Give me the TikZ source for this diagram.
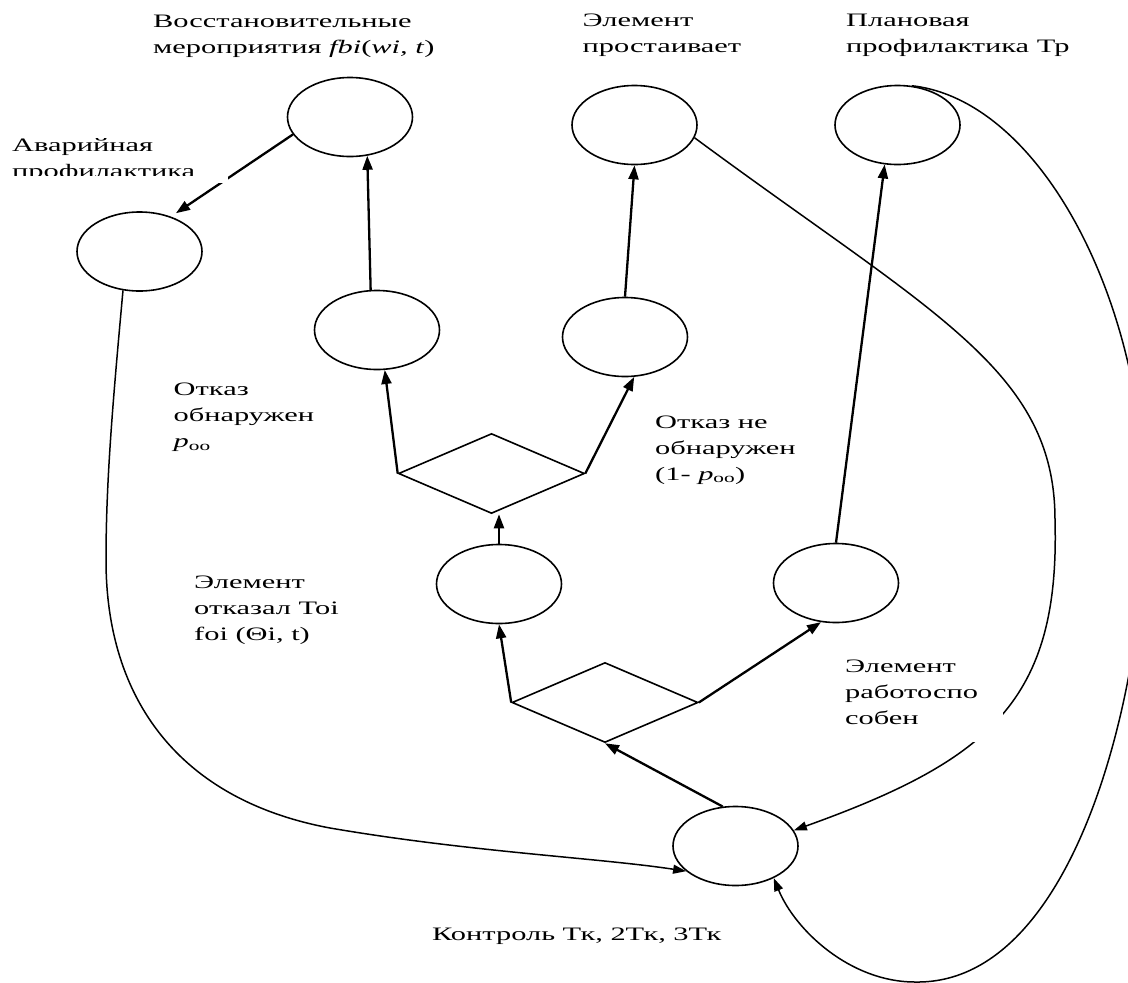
\documentclass[tikz,border=0pt]{standalone}
\usepackage{fontspec}
\setmainfont{Liberation Serif}[FakeStretch=1.6]
\usetikzlibrary{shapes.geometric,arrows.meta}

\begin{document}
\begin{tikzpicture}[x=1pt,y=-1pt,
  ell/.style={draw,ellipse,line width=1.6pt,minimum width=125pt,minimum height=79pt,inner sep=0pt},
  rhomb/.style={draw,diamond,line width=1.6pt,minimum width=186pt,minimum height=80pt,inner sep=0pt,aspect=2.325},
  thk/.style={line width=2.3pt,-{Triangle[length=14pt,width=10pt]}},
  thn/.style={line width=1.5pt,-{Triangle[length=13pt,width=9pt]}},
  lbl/.style={font=\fontsize{19}{26}\selectfont,align=left,inner sep=0pt,anchor=north west},
  blank/.style={fill=white}]
\clip (0,0) rectangle (1128,983);
\fill[white] (0,0) rectangle (1128,983);

% states
\node[ell] (e1) at (350,117) {};
\node[ell] (e2) at (634.5,125) {};
\node[ell] (e3) at (897.5,125) {};
\node[ell] (e4) at (139.5,251.5) {};
\node[ell] (e5) at (377,330) {};
\node[ell] (e6) at (625,337) {};
\node[ell] (e7) at (499,584) {};
\node[ell] (e8) at (836,583) {};
\node[ell] (e9) at (735.5,846) {};

% branch points
\node[rhomb] (d1) at (491.5,473.5) {};
\node[rhomb] (d2) at (605,702.5) {};

% straight transitions
\draw[thk] (e5.99) -- (e1.-66);
\draw[thk] (e6.north) -- (e2.south);
\draw[thk] (d1.west) -- (e5.-79);
\draw[thk] (d1.east) -- (e6.-77);
\draw[thk] (e7.north) -- (e7.north |- d1.south);
\draw[thk] (d2.west) -- (e7.south);
\draw[thk] (d2.east) -- (e8.249);
\draw[thk] (e9.108) -- (d2.south);
\draw[thk] (e8.north) -- (e3.252);
\draw[thk,shorten >=6pt] (e1.197) -- (e4.48);

% return paths to the control state
\draw[thn] (e4.247) .. controls (113,400) and (106,480) .. (106,560)
  .. controls (106,700) and (180,800) .. (330,828)
  .. controls (470,852) and (600,858) .. (e9.207);
\draw[thn] (e2.-12) .. controls (933,314) and (1055,370) .. (1055,520)
  .. controls (1060,700) and (990,760) .. (e9.15);
\draw[thn] (e3.70) .. controls (1040,100) and (1145,300) .. (1145,510)
  .. controls (1145,690) and (1075,985) .. (915,982)
  .. controls (850,982) and (795,930) .. (e9.-40);

% text box backgrounds
\path[blank] (0,120) rectangle (228,183);
\path[blank] (840,650) rectangle (1003,742);

% labels
\node[lbl] (tvost) at (153,14.4) {Восстановительные\\мероприятия \textit{fbi}(\textit{wi, t})};
\node[lbl] (tprost) at (582.5,13.4) {Элемент\\простаивает};
\node[lbl] (tplan) at (846,13.4) {Плановая\\профилактика Тр};
\begin{scope}
  \clip (0,0) rectangle (300,175.5);
  \node[lbl] (tavar) at (12,138.4) {Аварийная\\профилактика};
\end{scope}
\node[lbl] (tobn) at (173.5,382.9) {Отказ\\обнаружен\\\textit{p}\textsubscript{оо}};
\node[lbl] (tneobn) at (655,415.4) {Отказ не\\обнаружен\\(1- \textit{p}\textsubscript{оо})};
\node[lbl] (totk) at (194,575.4) {Элемент\\отказал Toi\\foi (Θi, t)};
\node[lbl] (trab) at (845,659.4) {Элемент\\работоспо\\собен};
\node[lbl] (tkontr) at (432,927.4) {Контроль Тк, 2Тк, 3Тк};
\end{tikzpicture}
\end{document}
